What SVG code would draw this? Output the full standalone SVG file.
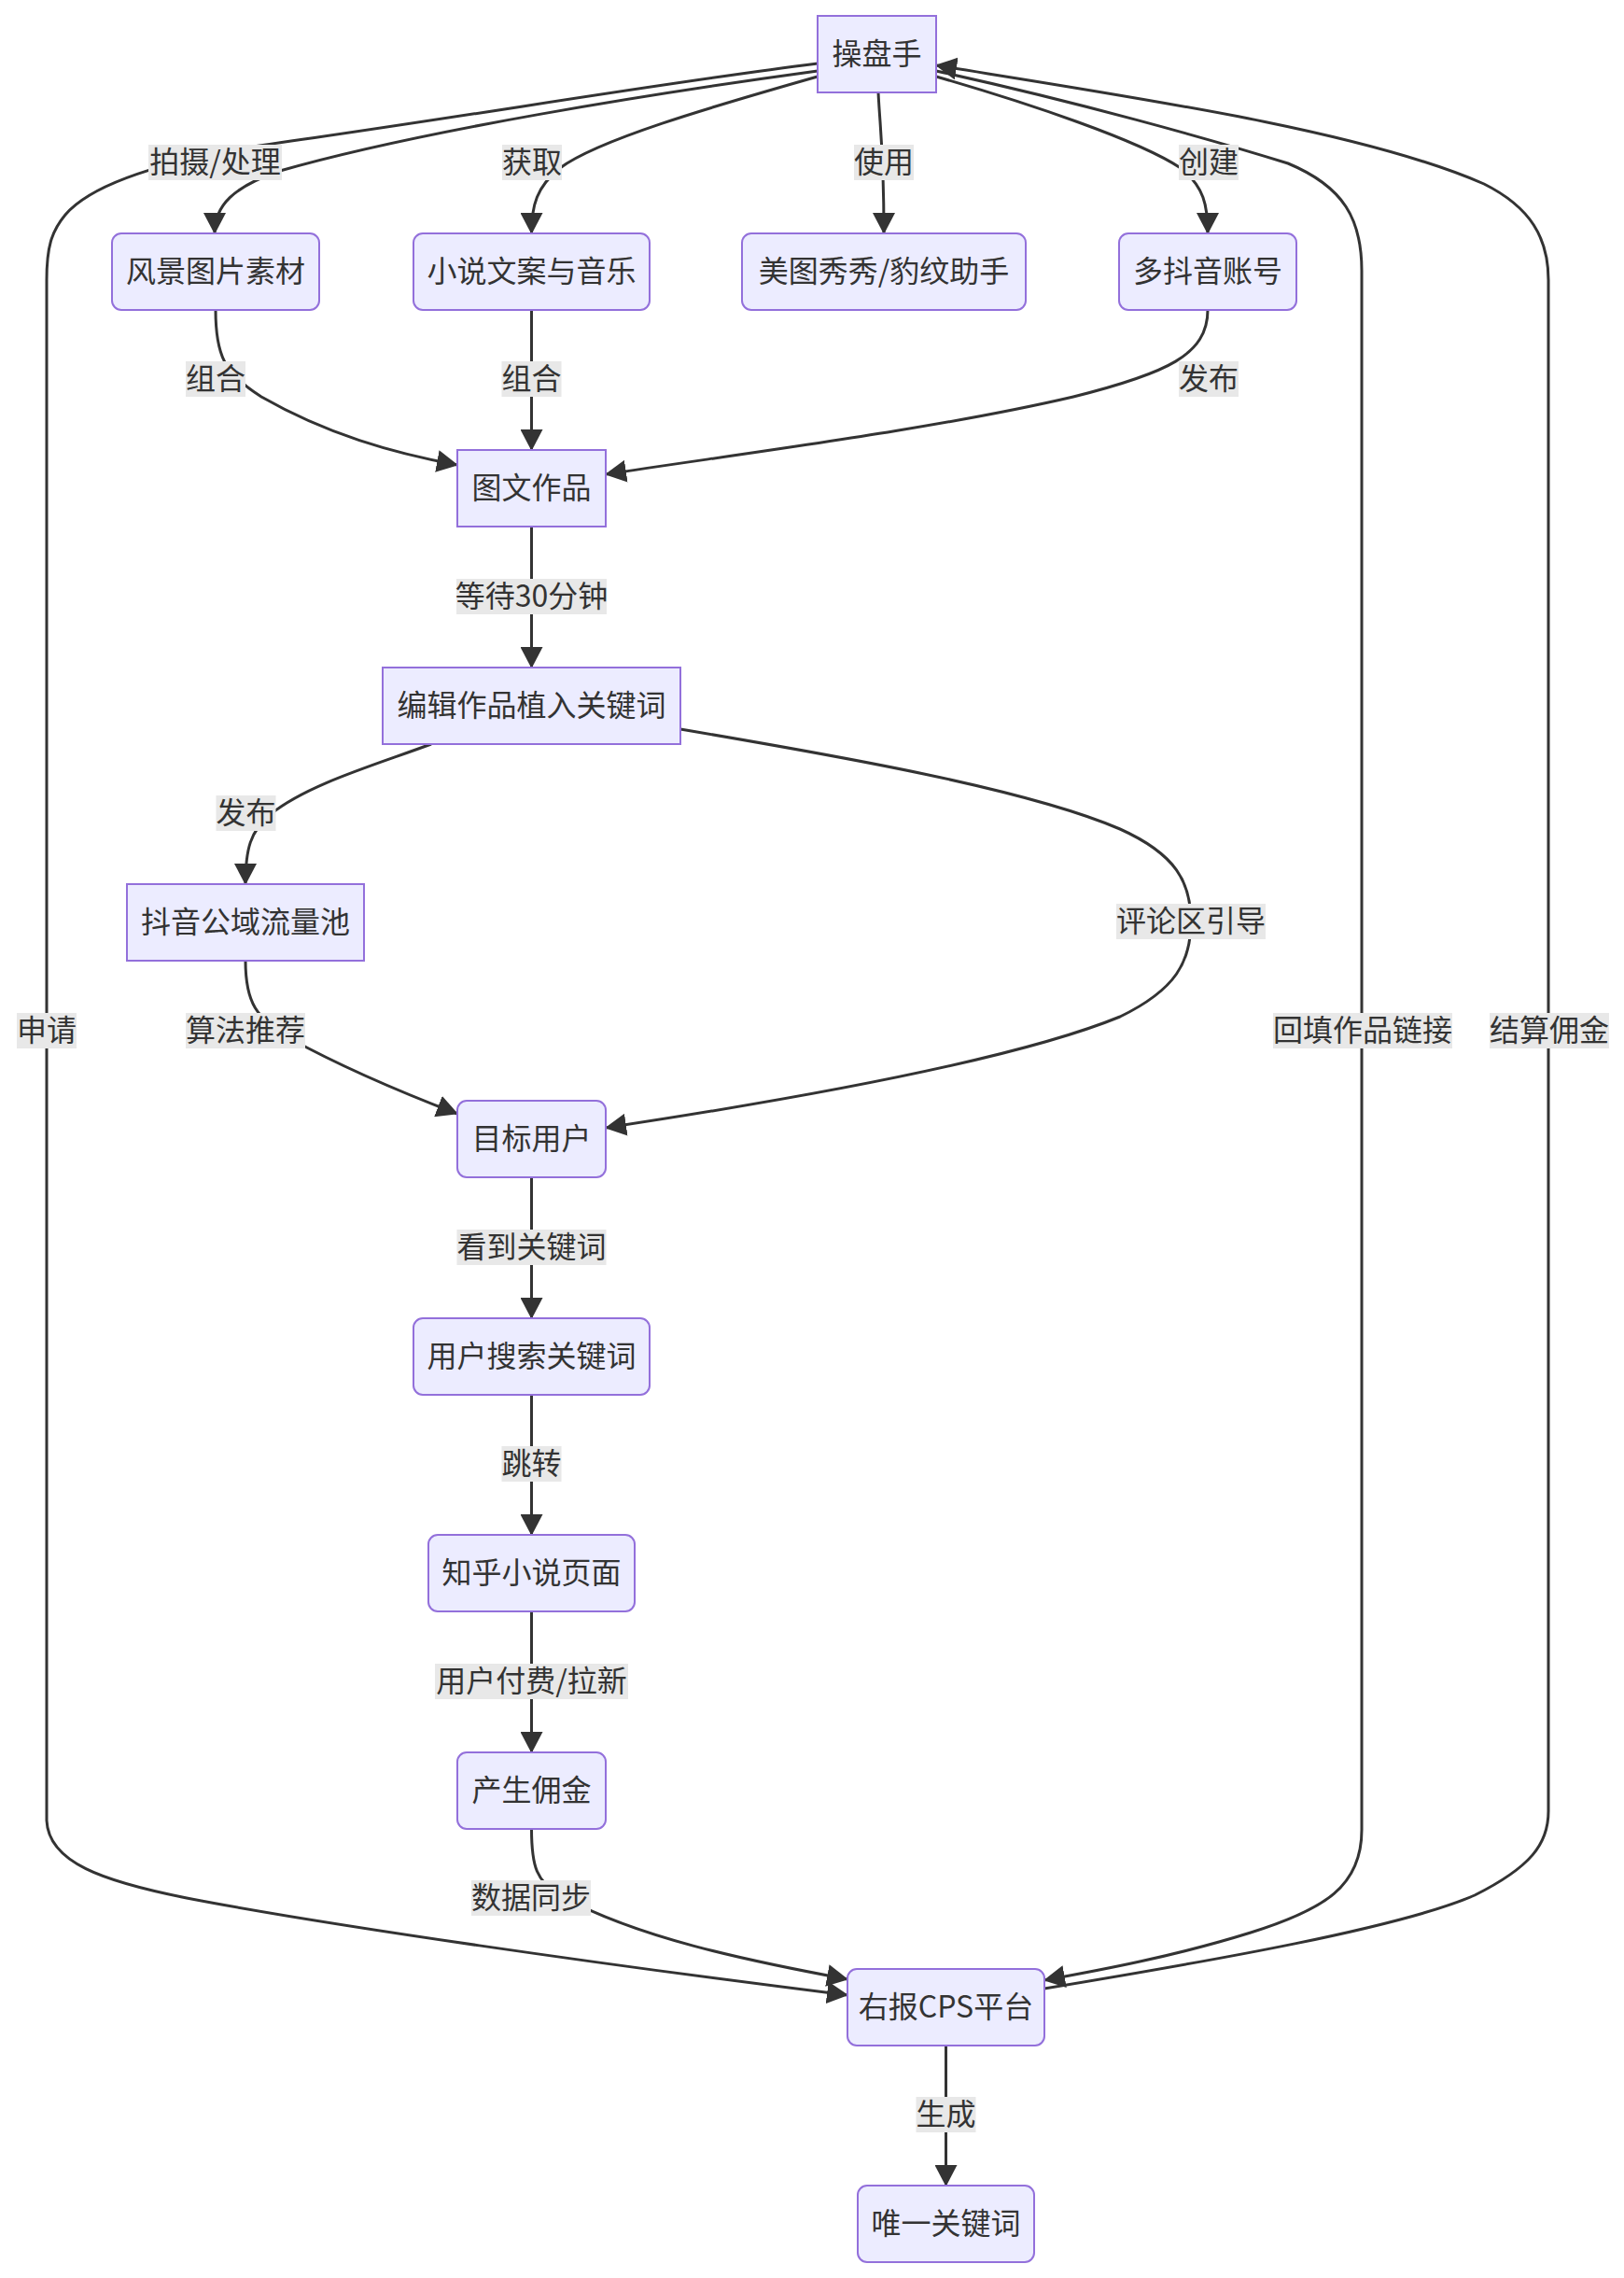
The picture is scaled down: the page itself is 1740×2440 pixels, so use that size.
<svg xmlns="http://www.w3.org/2000/svg" width="1740" height="2440" viewBox="0 0 1740 2440">
<style>
.node rect{fill:#ECECFF;stroke:#9370DB;stroke-width:2}
.edges path{fill:none;stroke:#333;stroke-width:3}
text{font-family:"Noto Sans CJK SC","Liberation Sans",sans-serif;font-size:32px;fill:#333;text-anchor:middle;dominant-baseline:central;transform:translate(0px,-3px)}
.lbl rect{fill:#e8e8e8}
</style>
<defs>
<marker id="arr" viewBox="0 0 23 24" refX="22" refY="12" markerWidth="23" markerHeight="24" markerUnits="userSpaceOnUse" orient="auto">
<path d="M0,0 L23,12 L0,24 z" fill="#333"/>
</marker>
</defs>
<rect width="1740" height="2440" fill="#fff"/>
<g class="edges">
<path marker-end="url(#arr)" d="M876,76 C700,100 450,140 300,183 C250,200 230,220 230,250"/>
<path marker-end="url(#arr)" d="M876,82 C760,115 640,150 600,180 C575,200 569.5,220 569.5,250"/>
<path marker-end="url(#arr)" d="M941,99 C943,140 947,160 947,250"/>
<path marker-end="url(#arr)" d="M1003,82 C1100,110 1220,150 1265,180 C1290,200 1294,220 1294,250"/>
<path marker-end="url(#arr)" d="M231,332 C231,380 240,400 280,425 C350,465 420,485 490,498"/>
<path marker-end="url(#arr)" d="M569.5,332 L569.5,482"/>
<path marker-end="url(#arr)" d="M1294,332 C1294,380 1250,400 1150,425 C1000,460 800,485 649,508"/>
<path marker-end="url(#arr)" d="M569.5,564 L569.5,715"/>
<path marker-end="url(#arr)" d="M462,797 C400,820 330,840 290,872 C268,890 263,910 263,947"/>
<path marker-end="url(#arr)" d="M729,781 C900,810 1100,845 1200,888 C1260,915 1276,945 1276,987 C1276,1030 1260,1060 1200,1089 C1100,1130 900,1170 649,1208"/>
<path marker-end="url(#arr)" d="M263,1029 C263,1075 275,1090 310,1112 C370,1145 430,1170 490,1193"/>
<path marker-end="url(#arr)" d="M876,68 C700,90 500,125 278,156 C180,172 100,195 70,230 C55,248 50,265 50,300 L50,1950 C52,1995 110,2015 200,2033 C350,2062 650,2105 908,2137"/>
<path marker-end="url(#arr)" d="M1003,76 C1150,108 1300,150 1380,175 C1440,200 1459,235 1459,290 L1459,1960 C1459,2020 1420,2045 1340,2070 C1260,2095 1180,2110 1119,2121"/>
<path marker-end="url(#arr)" d="M1119,2130 C1300,2100 1500,2065 1580,2030 C1640,2000 1659,1975 1659,1940 L1659,300 C1659,255 1640,222 1590,197 C1460,140 1220,105 1003,70"/>
<path marker-end="url(#arr)" d="M569.5,1261 L569.5,1412"/>
<path marker-end="url(#arr)" d="M569.5,1494 L569.5,1644"/>
<path marker-end="url(#arr)" d="M569.5,1726 L569.5,1877"/>
<path marker-end="url(#arr)" d="M569.5,1959 C569.5,2000 575,2015 600,2030 C680,2075 800,2100 908,2120"/>
<path marker-end="url(#arr)" d="M1013.5,2191 L1013.5,2341"/>
</g>
<g class="lbl">
<rect x="159" y="155" width="143" height="38"/><text x="230.5" y="174">拍摄/处理</text>
<rect x="538" y="155" width="64" height="38"/><text x="570" y="174">获取</text>
<rect x="915" y="155" width="64" height="38"/><text x="947" y="174">使用</text>
<rect x="1263" y="155" width="64" height="38"/><text x="1295" y="174">创建</text>
<rect x="199" y="387" width="64" height="38"/><text x="231" y="406">组合</text>
<rect x="537.5" y="387" width="64" height="38"/><text x="569.5" y="406">组合</text>
<rect x="1263" y="387" width="64" height="38"/><text x="1295" y="406">发布</text>
<rect x="489" y="620" width="161" height="38"/><text x="569.5" y="639">等待30分钟</text>
<rect x="231.5" y="852" width="64" height="38"/><text x="263.5" y="871">发布</text>
<rect x="1196" y="968" width="160" height="38"/><text x="1276" y="987">评论区引导</text>
<rect x="199" y="1085" width="128" height="38"/><text x="263" y="1104">算法推荐</text>
<rect x="18" y="1085" width="64" height="38"/><text x="50" y="1104">申请</text>
<rect x="1364" y="1085" width="192" height="38"/><text x="1460" y="1104">回填作品链接</text>
<rect x="1596" y="1085" width="128" height="38"/><text x="1660" y="1104">结算佣金</text>
<rect x="489.5" y="1317" width="160" height="38"/><text x="569.5" y="1336">看到关键词</text>
<rect x="537.5" y="1549" width="64" height="38"/><text x="569.5" y="1568">跳转</text>
<rect x="466" y="1782" width="207" height="38"/><text x="569.5" y="1801">用户付费/拉新</text>
<rect x="505" y="2014" width="128" height="38"/><text x="569" y="2033">数据同步</text>
<rect x="981.5" y="2246" width="64" height="38"/><text x="1013.5" y="2265">生成</text>
</g>
<g id="n-caopanshou" class="node"><rect x="876" y="17" width="127" height="82"/><text x="939.5" y="58">操盘手</text></g>
<g id="n-fengjing" class="node"><rect x="120" y="250" width="222" height="82" rx="10"/><text x="231" y="291">风景图片素材</text></g>
<g id="n-xiaoshuo" class="node"><rect x="443" y="250" width="253" height="82" rx="10"/><text x="569.5" y="291">小说文案与音乐</text></g>
<g id="n-meitu" class="node"><rect x="795" y="250" width="304" height="82" rx="10"/><text x="947" y="291">美图秀秀/豹纹助手</text></g>
<g id="n-douyin" class="node"><rect x="1199" y="250" width="190" height="82" rx="10"/><text x="1294" y="291">多抖音账号</text></g>
<g id="n-tuwen" class="node"><rect x="490" y="482" width="159" height="82"/><text x="569.5" y="523">图文作品</text></g>
<g id="n-bianji" class="node"><rect x="410" y="715" width="319" height="82"/><text x="569.5" y="756">编辑作品植入关键词</text></g>
<g id="n-gongyu" class="node"><rect x="136" y="947" width="254" height="82"/><text x="263" y="988">抖音公域流量池</text></g>
<g id="n-mubiao" class="node"><rect x="490" y="1179" width="159" height="82" rx="10"/><text x="569.5" y="1220">目标用户</text></g>
<g id="n-sousuo" class="node"><rect x="443" y="1412" width="253" height="82" rx="10"/><text x="569.5" y="1453">用户搜索关键词</text></g>
<g id="n-zhihu" class="node"><rect x="459" y="1644" width="221" height="82" rx="10"/><text x="569.5" y="1685">知乎小说页面</text></g>
<g id="n-yongjin" class="node"><rect x="490" y="1877" width="159" height="82" rx="10"/><text x="569.5" y="1918">产生佣金</text></g>
<g id="n-cps" class="node"><rect x="908" y="2109" width="211" height="82" rx="10"/><text x="1013.5" y="2150">右报CPS平台</text></g>
<g id="n-weiyi" class="node"><rect x="919" y="2341" width="189" height="82" rx="10"/><text x="1013.5" y="2382">唯一关键词</text></g>
</svg>
